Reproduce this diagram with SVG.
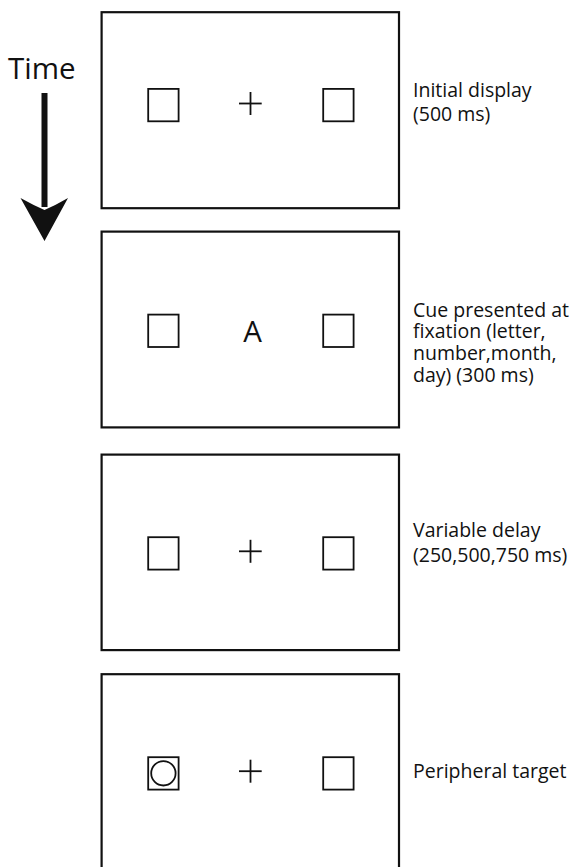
<svg xmlns="http://www.w3.org/2000/svg" width="572" height="867" viewBox="0 0 572 867">
  <style>
    .frame { fill: #fff; stroke: #111; stroke-width: 2.2; }
    .box { fill: none; stroke: #111; stroke-width: 1.8; }
    .fix { stroke: #111; stroke-width: 1.8; fill: none; }
    .label { font-family: "Open Sans", "Noto Sans", sans-serif; font-size: 19.5px; fill: #111; }
    .big { font-family: "Open Sans", "Noto Sans", sans-serif; font-size: 29.5px; fill: #111; }
  </style>
  <defs>
    <g id="boxes">
      <rect class="box" x="148.2" y="0" width="30.4" height="32.4"/>
      <rect class="box" x="323.2" y="0" width="30.4" height="32.4"/>
    </g>
    <g id="cross">
      <line class="fix" x1="239" y1="0" x2="261.7" y2="0"/>
      <line class="fix" x1="250.5" y1="-11.5" x2="250.5" y2="11.5"/>
    </g>
  </defs>
  <rect width="572" height="867" fill="#fff"/>

  <!-- time axis -->
  <g id="time-axis">
    <text class="big" x="8" y="79">Time</text>
    <rect x="41.5" y="93" width="6" height="114" fill="#111"/>
    <path d="M44.5 241 L20.5 198 Q33 205 44.5 210 Q56 205 68 198 Z" fill="#111"/>
  </g>

  <!-- frame 1: initial display -->
  <g id="frame-initial">
    <rect class="frame" x="101.6" y="12.2" width="297.4" height="196"/>
    <use href="#boxes" y="88.9"/>
    <use href="#cross" y="103.5"/>
    <text class="label" x="413" y="97">Initial display</text>
    <text class="label" x="413" y="121">(500 ms)</text>
  </g>

  <!-- frame 2: cue -->
  <g id="frame-cue">
    <rect class="frame" x="101.6" y="231.6" width="297.4" height="195.8"/>
    <use href="#boxes" y="314.6"/>
    <text class="big" x="252.5" y="342.3" text-anchor="middle">A</text>
    <text class="label" x="413" y="316.7">Cue presented at</text>
    <text class="label" x="413" y="338.4">fixation (letter,</text>
    <text class="label" x="413" y="360.1">number,month,</text>
    <text class="label" x="413" y="381.8">day) (300 ms)</text>
  </g>

  <!-- frame 3: delay -->
  <g id="frame-delay">
    <rect class="frame" x="101.6" y="454.6" width="297.4" height="195.5"/>
    <use href="#boxes" y="537.2"/>
    <use href="#cross" y="551.3"/>
    <text class="label" x="413" y="537.3">Variable delay</text>
    <text class="label" x="413" y="561.5">(250,500,750 ms)</text>
  </g>

  <!-- frame 4: target -->
  <g id="frame-target">
    <rect class="frame" x="101.6" y="674.2" width="297.4" height="210"/>
    <use href="#boxes" y="757.2"/>
    <circle class="box" cx="163.4" cy="773.3" r="12.2"/>
    <use href="#cross" y="771.2"/>
    <text class="label" x="413" y="778.3">Peripheral target</text>
  </g>
</svg>
